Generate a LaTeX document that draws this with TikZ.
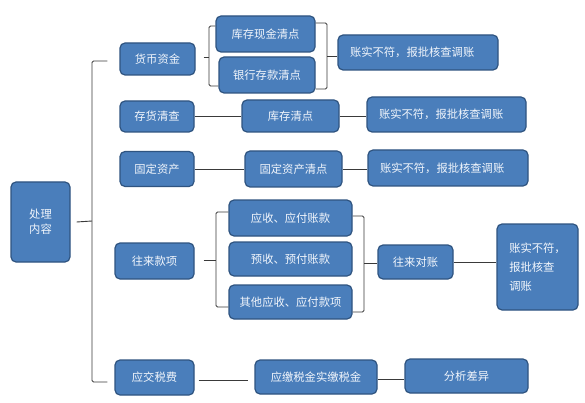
\documentclass[tikz,border=0pt]{standalone}
\usepackage{fontspec}
\setmainfont{Noto Sans CJK SC}
\definecolor{boxfill}{HTML}{4A7EBB}
\definecolor{boxline}{HTML}{2F5480}
\definecolor{linec}{HTML}{3A3A3A}
\definecolor{boxtext}{HTML}{F2F6FC}
\begin{document}
\begin{tikzpicture}[x=1pt,y=-1pt,
  box/.style={draw=boxline, line width=1.2pt, fill=boxfill, rounded corners=5pt,
    text=boxtext, font=\fontsize{11.3}{15}\selectfont, inner sep=2pt, align=center},
  wide/.style={box, text width=150pt, align=left, inner xsep=5pt},
  conn/.style={draw=linec, line width=0.9pt},
  brk/.style={draw=linec, line width=0.9pt, rounded corners=1.5pt}]
\useasboundingbox[fill=white] (0,0) rectangle (585,403);

% nodes
\node[box, minimum width=59pt, minimum height=80pt] (root) at (40.5,222) {处理\\内容};
\node[box, minimum width=75pt, minimum height=32pt] (m1) at (157.5,59) {货币资金};
\node[box, minimum width=74pt, minimum height=31pt] (m2) at (157,116.5) {存货清查};
\node[box, minimum width=74pt, minimum height=35pt] (m3) at (157,169) {固定资产};
\node[box, minimum width=79pt, minimum height=36pt] (m4) at (154.5,261) {往来款项};
\node[box, minimum width=79pt, minimum height=35pt] (m5) at (154.5,377.5) {应交税费};

\node[box, minimum width=99pt, minimum height=36pt] (a1) at (265.5,34) {库存现金清点};
\node[box, minimum width=96pt, minimum height=36pt] (a2) at (267,75) {银行存款清点};
\node[wide, minimum height=35pt] (r1) at (418,52.5) {\hspace*{7pt}账实不符，报批核查调账};

\node[box, minimum width=97pt, minimum height=32pt] (b1) at (290.5,116) {库存清点};
\node[wide, text width=149pt, minimum height=35pt] (r2) at (446.5,114.5) {\hspace*{7pt}账实不符，报批核查调账};

\node[box, minimum width=97pt, minimum height=36pt] (c1) at (293.5,169) {固定资产清点};
\node[wide, minimum height=36pt] (r3) at (448,168) {\hspace*{7pt}账实不符，报批核查调账};

\node[box, minimum width=123pt, minimum height=36pt] (d1) at (290.5,218) {应收、应付账款};
\node[box, minimum width=123pt, minimum height=34pt] (d2) at (290.5,259) {预收、预付账款};
\node[box, minimum width=123pt, minimum height=34pt] (d3) at (290.5,302) {其他应收、应付款项};
\node[box, minimum width=75pt, minimum height=34pt] (d4) at (415.5,262) {往来对账};
\node[box, minimum width=81pt, minimum height=86pt, align=left, font=\fontsize{11.3}{19}\selectfont] (r4) at (537.5,267) {账实不符，\\报批核查\\调账};

\node[box, minimum width=122pt, minimum height=34pt] (e1) at (316,377) {应缴税金实缴税金};
\node[box, minimum width=123pt, minimum height=34pt] (e2) at (466.5,376) {分析差异};

% bracket spine coordinates
\coordinate (s0) at (92,221);
\coordinate (s1) at (209,57);
\coordinate (s2) at (327,56);
\coordinate (s3) at (216,260);
\coordinate (s4) at (364,263);

% big bracket
\draw[brk] ([xshift=-12pt]m1.west |- 0,61) -| (92,221) |- ([xshift=-7pt]m5.west |- 0,382);
\draw[conn] ([xshift=6pt]root.east) -- (s0);

% bracket after 货币资金
\draw[brk] (a1.west |- 0,26) -| (s1) |- (a2.west |- 0,86);
\draw[conn] ([xshift=8pt]m1.east |- s1) -- (s1);
\draw[brk] (a1.east |- 0,23) -| (s2) |- (a2.east |- 0,89);
\draw[conn] (s2) -- (r1.west |- s2);

% 存货, 固定资产
\draw[conn] (m2.east) -- (b1.west |- m2.east);
\draw[conn] (b1.east) -- (r2.west |- b1.east);
\draw[conn] (m3.east) -- (c1.west);
\draw[conn] (c1.east) -- (r3.west |- c1.east);

% 往来款项 brackets
\draw[brk] (d1.west |- 0,212) -| (s3) |- (d3.west |- 0,307);
\draw[conn] ([xshift=9pt]m4.east |- s3) -- (s3);
\draw[brk] (d1.east |- 0,216) -| (s4) |- (d3.east |- 0,312);
\draw[conn] (s4) -- (d4.west |- s4);
\draw[conn] (d4.east) -- (r4.west |- d4.east);

% 应交税费
\draw[conn] ([xshift=4pt]m5.east |- 0,380) -- ([xshift=-6pt]e1.west |- 0,380);
\draw[conn] (e1.east |- 0,379) -- (e2.west |- 0,379);
\end{tikzpicture}
\end{document}
